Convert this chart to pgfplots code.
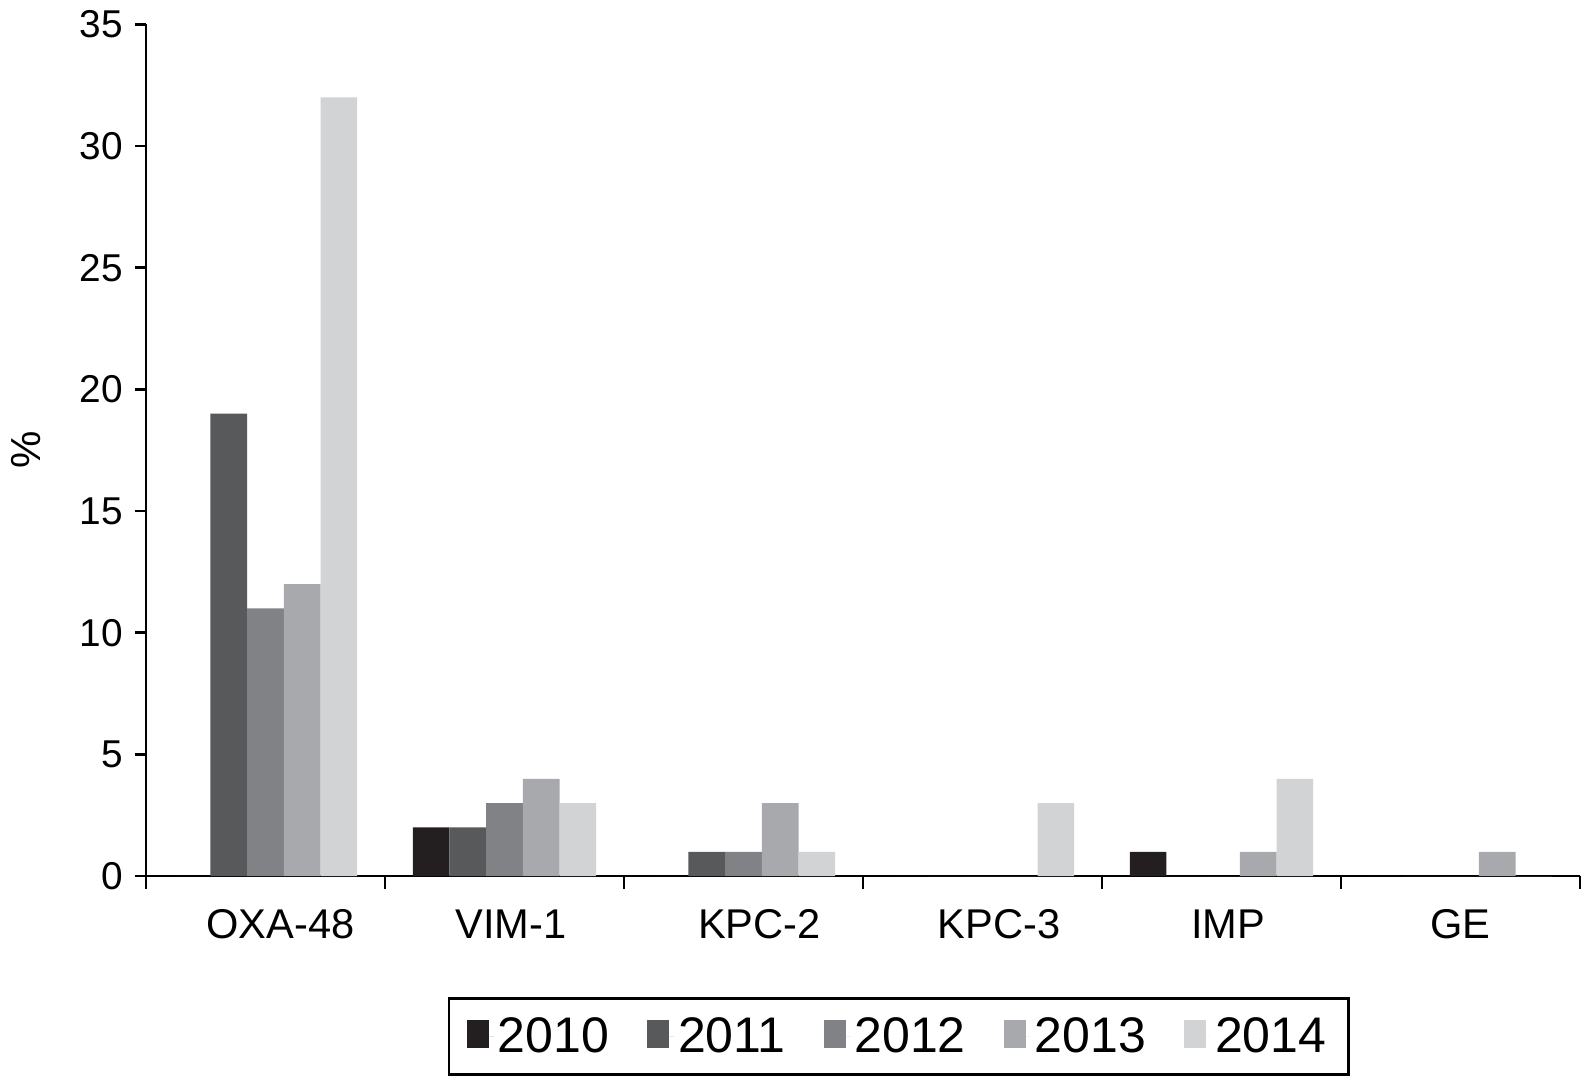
\documentclass[border=0pt]{standalone}
\usepackage{pgfplots}
\pgfplotsset{compat=1.18}
\usepackage{fontspec}
\setmainfont{Liberation Sans}
\definecolor{cA}{HTML}{231F20}
\definecolor{cB}{HTML}{58595B}
\definecolor{cC}{HTML}{808285}
\definecolor{cD}{HTML}{A7A9AC}
\definecolor{cE}{HTML}{D1D3D4}
\pgfplotstableread{
x y2010 y2011 y2012 y2013 y2014
0 0 19 11 12 32
1 2 2 3 4 3
2 0 1 1 3 1
3 0 0 0 0 3
4 1 0 0 1 4
5 0 0 0 1 0
}\datatable
\begin{document}
\begin{tikzpicture}
\begin{axis}[
  name=ax,
  width=717pt, height=425.9pt, scale only axis,
  ybar=0pt, bar width=0.1535,
  xmin=-0.5, xmax=5.5, ymin=0, ymax=35,
  axis x line*=bottom, axis y line*=left,
  axis line style={line width=1.3pt, black},
  xtick={0,1,2,3,4,5},
  xticklabels={\hspace*{15pt}OXA-48,\hspace*{6.5pt}VIM-1,\hspace*{16pt}KPC-2,\hspace*{16.5pt}KPC-3,\hspace*{6.5pt}IMP,GE},
  minor xtick={-0.5,0.5,1.5,2.5,3.5,4.5,5.5},
  ytick={0,5,...,35},
  tick align=outside,
  major tick length=5.5pt, minor tick length=6.3pt,
  x tick style={draw=none},
  minor x tick style={draw=black, line width=1.3pt},
  y tick style={line width=1.3pt, black},
  /pgf/number format/assume math mode=true,
  yticklabel style={font=\fontsize{19.4}{23}\selectfont, anchor=east, inner sep=0pt, xshift=-6pt},
  xticklabel style={font=\fontsize{20.8}{24}\selectfont, anchor=north, inner sep=0pt, yshift=-11pt},
  ylabel={\%},
  ylabel style={font=\fontsize{21}{25}\selectfont, at={(axis description cs:0,0.5)}, anchor=center, yshift=60pt},
  legend columns=5,
  legend style={at={(axis description cs:0.5248,0)}, anchor=north, yshift=-60.5pt,
    draw=black, line width=1.25pt, font=\fontsize{25}{29}\selectfont,
    inner xsep=9pt, inner ysep=7.5pt,
    /tikz/every even column/.append style={column sep=17pt}},
  legend image code/.code={\fill[draw=none] (0pt,-6pt) rectangle (11pt,8pt); \path (0pt,0pt) -- (13.5pt,0pt);},
]
\addplot[fill=cA, draw=none] table[x=x, y=y2010] {\datatable};
\addplot[fill=cB, draw=none] table[x=x, y=y2011] {\datatable};
\addplot[fill=cC, draw=none] table[x=x, y=y2012] {\datatable};
\addplot[fill=cD, draw=none] table[x=x, y=y2013] {\datatable};
\addplot[fill=cE, draw=none] table[x=x, y=y2014] {\datatable};
\legend{2010,2011,2012,2013,2014}
\end{axis}
\path ([shift={(-73pt,-102pt)}]ax.south west) rectangle ([shift={(1.5pt,12.15pt)}]ax.north east);
\end{tikzpicture}
\end{document}
